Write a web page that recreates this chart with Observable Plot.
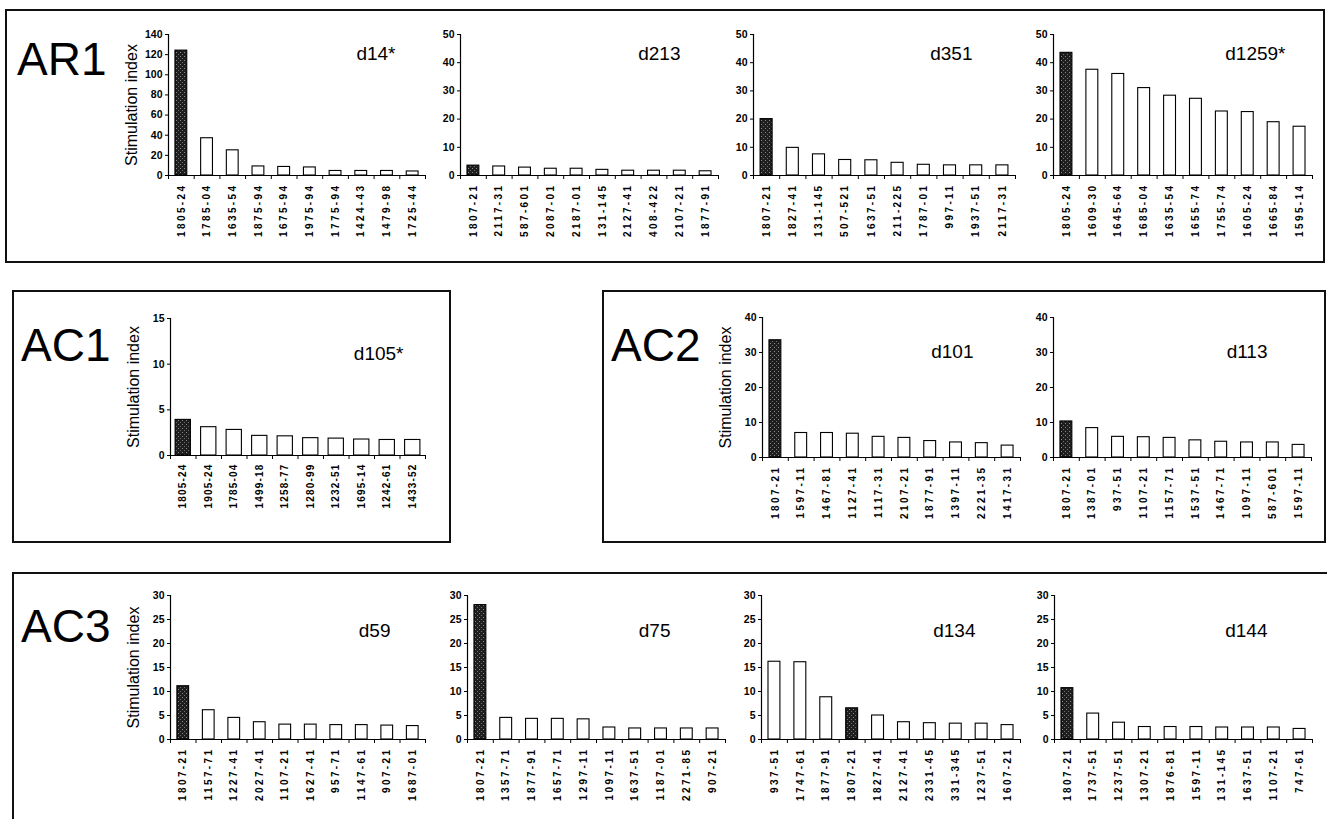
<!DOCTYPE html>
<html>
<head>
<meta charset="utf-8">
<script src="https://cdn.jsdelivr.net/npm/d3@7"></script>
<script src="https://cdn.jsdelivr.net/npm/@observablehq/plot@0.6"></script>
<style>
  html, body { margin: 0; padding: 0; background: #fff; }
  #stage { position: relative; width: 1327px; height: 819px; overflow: hidden; font-family: "Liberation Sans", Arial, sans-serif; }
  .box { position: absolute; border: 2px solid #111; box-sizing: border-box; }
  .row { position: absolute; font-size: 46px; color: #000; line-height: 1; }
  .panel { position: absolute; }
  g[aria-description="cat"] text { letter-spacing: 2.4px; }
  .tight g[aria-description="cat"] text { letter-spacing: 1.2px; }
</style>
</head>
<body>
<svg width="0" height="0" style="position:absolute">
  <defs>
    <pattern id="stipple" width="4" height="4" patternUnits="userSpaceOnUse">
      <rect width="4" height="4" fill="#1e1e1e"></rect>
      <rect x="0" y="0" width="1" height="1" fill="#8a8a8a"></rect>
      <rect x="2" y="2" width="1" height="1" fill="#6e6e6e"></rect>
    </pattern>
  </defs>
</svg>
<div id="stage"></div>
<script>
// ---------------- data ----------------
const highlight = ["1805-24", "1807-21"];

const d14Labels = ["1805-24","1785-04","1635-54","1875-94","1675-94","1975-94","1775-94","1424-43","1479-98","1725-44"];
const d14Values = [124, 37, 25, 9, 8.5, 8, 4.5, 4.5, 4.5, 4];

const d213Labels = ["1807-21","2117-31","587-601","2087-01","2187-01","131-145","2127-41","408-422","2107-21","1877-91"];
const d213Values = [3.5, 3.2, 2.8, 2.4, 2.4, 2.0, 1.7, 1.7, 1.7, 1.5];

const d351Labels = ["1807-21","1827-41","131-145","507-521","1637-51","211-225","1787-01","997-11","1937-51","2117-31"];
const d351Values = [20, 9.8, 7.5, 5.5, 5.4, 4.5, 3.8, 3.6, 3.6, 3.6];

const d1259Labels = ["1805-24","1609-30","1645-64","1685-04","1635-54","1655-74","1755-74","1605-24","1665-84","1595-14"];
const d1259Values = [43.5, 37.5, 36, 31, 28.3, 27.2, 22.7, 22.5, 18.9, 17.3];

const d105Labels = ["1805-24","1905-24","1785-04","1499-18","1258-77","1280-99","1232-51","1695-14","1242-61","1433-52"];
const d105Values = [3.9, 3.1, 2.8, 2.15, 2.1, 1.9, 1.85, 1.75, 1.7, 1.7];

const d101Labels = ["1807-21","1597-11","1467-81","1127-41","1117-31","2107-21","1877-91","1397-11","2221-35","1417-31"];
const d101Values = [33.5, 7, 7, 6.8, 5.9, 5.6, 4.7, 4.3, 4.1, 3.4];

const d113Labels = ["1807-21","1387-01","937-51","1107-21","1157-71","1537-51","1467-71","1097-11","587-601","1597-11"];
const d113Values = [10.3, 8.4, 5.9, 5.8, 5.6, 4.9, 4.5, 4.3, 4.3, 3.6];

const d59Labels = ["1807-21","1157-71","1227-41","2027-41","1107-21","1627-41","957-71","1147-61","907-21","1687-01"];
const d59Values = [11.1, 6.1, 4.5, 3.6, 3.1, 3.1, 3.0, 3.0, 2.9, 2.8];

const d75Labels = ["1807-21","1357-71","1877-91","1657-71","1297-11","1097-11","1637-51","1187-01","2271-85","907-21"];
const d75Values = [28, 4.5, 4.3, 4.3, 4.2, 2.5, 2.3, 2.3, 2.3, 2.3];

const d134Labels = ["937-51","1747-61","1877-91","1807-21","1827-41","2127-41","2331-45","331-345","1237-51","1607-21"];
const d134Values = [16.2, 16.1, 8.8, 6.5, 5.0, 3.6, 3.4, 3.3, 3.3, 3.0];

const d144Labels = ["1807-21","1737-51","1237-51","1307-21","1876-81","1597-11","131-145","1637-51","1107-21","747-61"];
const d144Values = [10.7, 5.4, 3.5, 2.6, 2.6, 2.6, 2.5, 2.5, 2.5, 2.2];

const rowNames = ["AR1", "AC1", "AC2", "AC3"];
const yAxisLabel = "Stimulation index";

// ---------------- layout ----------------
const stage = document.getElementById("stage");

const boxes = [
  {left: 5, top: 9, width: 1320, height: 254},
  {left: 12, top: 290, width: 439, height: 253},
  {left: 602, top: 290, width: 724, height: 253},
  {left: 12, top: 572, width: 1330, height: 260}
];
boxes.forEach(b => {
  const d = document.createElement("div");
  d.className = "box";
  Object.assign(d.style, {left: b.left + "px", top: b.top + "px", width: b.width + "px", height: b.height + "px"});
  stage.appendChild(d);
});

const rowPos = [
  {left: 17, top: 36},
  {left: 21, top: 322},
  {left: 611, top: 322},
  {left: 21, top: 603}
];
rowNames.forEach((name, i) => {
  const d = document.createElement("div");
  d.className = "row";
  d.textContent = name;
  d.style.left = rowPos[i].left + "px";
  d.style.top = rowPos[i].top + "px";
  stage.appendChild(d);
});

const panels = [
  {title: "d14*",   labels: d14Labels,   values: d14Values,   ymax: 140, step: 20, x0: 168, x1: 425, yTop: 34,  yZero: 175, ylab: true,  tEnd: 30, tTop: 19},
  {title: "d213",   labels: d213Labels,  values: d213Values,  ymax: 50,  step: 10, x0: 460, x1: 718, yTop: 34,  yZero: 175, ylab: false, tEnd: 38, tTop: 19},
  {title: "d351",   labels: d351Labels,  values: d351Values,  ymax: 50,  step: 10, x0: 753, x1: 1015,yTop: 34,  yZero: 175, ylab: false, tEnd: 43, tTop: 19},
  {title: "d1259*", labels: d1259Labels, values: d1259Values, ymax: 50,  step: 10, x0: 1053,x1: 1312,yTop: 34,  yZero: 175, ylab: false, tEnd: 27, tTop: 19},
  {title: "d105*",  labels: d105Labels,  values: d105Values,  ymax: 15,  step: 5,  x0: 170, x1: 425, yTop: 318, yZero: 455, ylab: true,  tEnd: 22, tTop: 35, tight: true, inset: 0.2},
  {title: "d101",   labels: d101Labels,  values: d101Values,  ymax: 40,  step: 10, x0: 762, x1: 1020,yTop: 317, yZero: 457, ylab: true,  tEnd: 47, tTop: 34},
  {title: "d113",   labels: d113Labels,  values: d113Values,  ymax: 40,  step: 10, x0: 1053,x1: 1311,yTop: 317, yZero: 457, ylab: false, tEnd: 44, tTop: 34},
  {title: "d59",    labels: d59Labels,   values: d59Values,   ymax: 30,  step: 5,  x0: 170, x1: 425, yTop: 595, yZero: 739, ylab: true,  tEnd: 35, tTop: 35},
  {title: "d75",    labels: d75Labels,   values: d75Values,   ymax: 30,  step: 5,  x0: 467, x1: 725, yTop: 595, yZero: 739, ylab: false, tEnd: 55, tTop: 35},
  {title: "d134",   labels: d134Labels,  values: d134Values,  ymax: 30,  step: 5,  x0: 761, x1: 1020,yTop: 595, yZero: 739, ylab: false, tEnd: 45, tTop: 35},
  {title: "d144",   labels: d144Labels,  values: d144Values,  ymax: 30,  step: 5,  x0: 1054,x1: 1312,yTop: 595, yZero: 739, ylab: false, tEnd: 45, tTop: 35}
];

const ml = 52, mr = 8, mt = 10, mb = 78;

panels.forEach(p => {
  const n = p.labels.length;
  const data = p.labels.map((label, i) => ({label, value: p.values[i], i}));
  const inset = p.inset ?? 0.27;
  const w = p.x1 - p.x0, h = p.yZero - p.yTop;
  const marks = [
    Plot.rectY(data, {
      x1: d => d.i + inset, x2: d => d.i + 1 - inset, y1: 0, y2: "value",
      fill: d => highlight.includes(d.label) ? "url(#stipple)" : "#fff",
      stroke: "#000", strokeWidth: 1.1
    }),
    Plot.ruleY([0], {stroke: "#000", strokeWidth: 1.2}),
    Plot.ruleX([0], {stroke: "#000", strokeWidth: 1.2}),
    Plot.axisY({ticks: d3.range(0, p.ymax + p.step / 2, p.step), tickSize: 3, tickPadding: 3, label: null,
                fontSize: 10.5, fontWeight: "bold", tickFormat: d3.format("d")}),
    Plot.axisX({ticks: d3.range(0, n + 1), tickSize: 4, tickFormat: () => "", label: null}),
    Plot.text(data, {x: d => d.i + 0.5, y: 0, text: "label", rotate: -90, textAnchor: "end", lineAnchor: "middle",
                     dy: 8, fontSize: 10, fontWeight: "bold", fill: "#000", ariaDescription: "cat"}),
    Plot.text([p.title], {frameAnchor: "top-right", textAnchor: "end", lineAnchor: "middle",
                          dx: -p.tEnd, dy: p.tTop, fontSize: 19, fill: "#000"})
  ];
  if (p.ylab) {
    marks.push(Plot.text([yAxisLabel], {frameAnchor: "left", rotate: -90, textAnchor: "middle", lineAnchor: "middle",
                                         dx: -37, fontSize: 16, fill: "#000"}));
  }
  const svg = Plot.plot({
    width: ml + w + mr,
    height: mt + h + mb,
    marginLeft: ml, marginRight: mr, marginTop: mt, marginBottom: mb,
    style: {fontFamily: "'Liberation Sans', Arial, sans-serif", color: "#000", background: "transparent", overflow: "visible"},
    x: {type: "linear", domain: [0, n]},
    y: {domain: [0, p.ymax]},
    marks
  });
  const wrap = document.createElement("div");
  wrap.className = "panel" + (p.tight ? " tight" : "");
  wrap.style.left = (p.x0 - ml) + "px";
  wrap.style.top = (p.yTop - mt) + "px";
  wrap.appendChild(svg);
  stage.appendChild(wrap);
});
</script>
</body>
</html>
